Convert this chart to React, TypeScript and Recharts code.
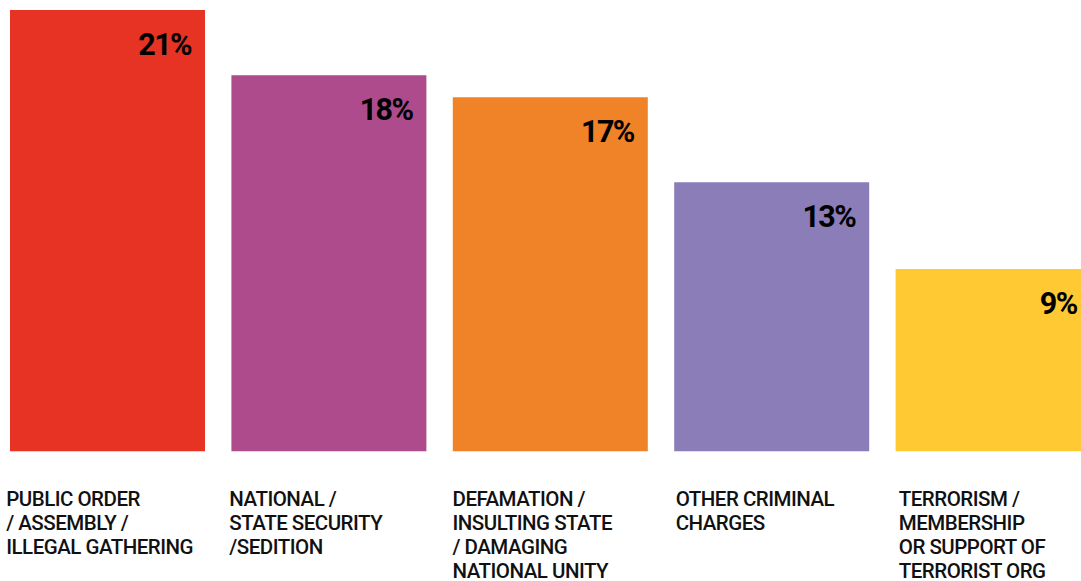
import React from "react";
import { BarChart, Bar, XAxis, YAxis, Cell, LabelList } from "recharts";

const categories = [
  ["PUBLIC ORDER", "/ ASSEMBLY /", "ILLEGAL GATHERING"],
  ["NATIONAL /", "STATE SECURITY", "/SEDITION"],
  ["DEFAMATION /", "INSULTING STATE", "/ DAMAGING", "NATIONAL UNITY"],
  ["OTHER CRIMINAL", "CHARGES"],
  ["TERRORISM /", "MEMBERSHIP", "OR SUPPORT OF", "TERRORIST ORG"],
];
const values = [21.0, 17.9, 16.85, 12.8, 8.68];
const valueLabels = ["21%", "18%", "17%", "13%", "9%"];
const colors = ["#E63324", "#AD4B8D", "#F08228", "#8A7DB8", "#FFC933"];

const data = values.map((v, i) => ({ name: String(i), value: v, label: valueLabels[i] }));

const BAR = 195;
const FONT = "Roboto, 'Noto Sans', sans-serif";

const Tick = (props: any) => {
  const { x, y, payload, index } = props;
  const lines = categories[Number(payload.value)] || [];
  const left = x - BAR / 2 - 4 + (index || 0) * 1.75;
  return (
    <text x={left} y={y} fontFamily={FONT} fontSize={20.5} fontWeight={500} fill="#111" letterSpacing={-0.5}>
      {lines.map((l, i) => (
        <tspan key={i} x={left} y={y + 47 + i * 24}>
          {l}
        </tspan>
      ))}
    </text>
  );
};

const ValueLabel = (props: any) => {
  const { x, y, width, index } = props;
  return (
    <text
      x={x + width - 14}
      y={y + 45}
      textAnchor="end"
      fontFamily={FONT}
      fontSize={30.5}
      fontWeight={700}
      fill="#000"
      letterSpacing={-1.6}
    >
      {valueLabels[index]}
    </text>
  );
};

export default function App() {
  return (
    <div style={{ position: "absolute", left: -3, top: 0, background: "#fff" }}>
      <BarChart
        width={1107}
        height={581}
        data={data}
        margin={{ top: 10, right: 0, bottom: 0, left: 0 }}
        barSize={BAR}
      >
        <XAxis dataKey="name" axisLine={false} tickLine={false} height={129.7} tick={<Tick />} interval={0} />
        <YAxis hide domain={[0, 21]} />
        <Bar dataKey="value" isAnimationActive={false}>
          {data.map((d, i) => (
            <Cell key={i} fill={colors[i]} />
          ))}
          <LabelList dataKey="label" content={<ValueLabel />} />
        </Bar>
      </BarChart>
    </div>
  );
}
